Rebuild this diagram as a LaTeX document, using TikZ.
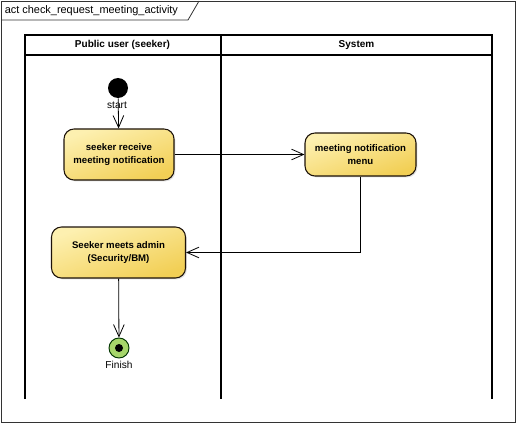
\documentclass[tikz,border=0pt]{standalone}
\usepackage{fontspec}
\setmainfont{Liberation Sans}
\usetikzlibrary{arrows.meta,shadows}
\definecolor{actlight}{HTML}{FDF0B0}
\definecolor{actdark}{HTML}{F2CF55}
\definecolor{finfill}{HTML}{A6D66A}
\tikzset{
  frameline/.style={draw=black!80, line width=0.6pt},
  laneline/.style={draw=black, line width=0.8pt},
  actbox/.style={draw=black!85!brown, line width=0.8pt, rounded corners=7.5pt,
    top color=actlight, bottom color=actdark, shading angle=20,
    font=\fontsize{7.2pt}{10pt}\selectfont\bfseries, align=center, inner sep=0pt,
    drop shadow={shadow xshift=1pt, shadow yshift=-1pt, fill=black!25, opacity=0.5}},
  flow/.style={draw=black, line width=0.6pt, -{Straight Barb[length=9pt,width=8pt,line width=0.6pt]}},
  lbl/.style={font=\fontsize{7.6pt}{9pt}\selectfont, inner sep=0pt},
  hdr/.style={font=\fontsize{7.5pt}{9pt}\selectfont\bfseries, inner sep=0pt},
}
\begin{document}
\begin{tikzpicture}[x=0.75pt,y=-0.75pt]
\useasboundingbox (0,0) rectangle (517,424);
% outer frame
\draw[frameline] (1,1) rectangle (515,422);
\draw[frameline] (1,20) -- (188,20) -- (199,1);
\node[anchor=west, font=\fontsize{8.2pt}{9pt}\selectfont, inner sep=0pt] (title) at (4.5,10.5) {act check\_request\_meeting\_activity};
% swimlanes
\draw[laneline] (25,399) -- (25,35) -- (492,35) -- (492,399);
\draw[laneline] (221,35) -- (221,399);
\draw[laneline] (25,55) -- (492,55);
\node[hdr] (h1) at (122.5,45) {Public user (seeker)};
\node[hdr] (h2) at (356.5,45) {System};
% nodes
\node[circle, fill=black, minimum size=20pt*0.75, inner sep=0pt] (start) at (118,88) {};
\node[actbox, minimum width=110*0.75pt, minimum height=51*0.75pt] (a1) at (119,154.5) {seeker receive\\meeting notification};
\node[actbox, minimum width=111*0.75pt, minimum height=43*0.75pt] (a2) at (360.5,154.5) {meeting notification\\menu};
\node[actbox, minimum width=134*0.75pt, minimum height=51*0.75pt] (a3) at (118.5,252.5) {Seeker meets admin\\(Security/BM)};
\node[circle, draw=black!80!green, line width=0.7pt, fill=finfill, minimum size=20pt*0.75, inner sep=0pt] (fin) at (119,348) {};
\node[circle, fill=black, minimum size=8pt*0.75, inner sep=0pt] (findot) at (119,348) {};
\node[lbl] (finlbl) at (119,364.5) {Finish};
% flows
\draw[flow] (start) -- (a1);
\node[lbl] (startlbl) at (117,105) {start};
\draw[flow] (a1) -- (a2);
\draw[flow] (a2.south) |- (a3.east);
\draw[flow] (a3) -- (fin);
\end{tikzpicture}
\end{document}
